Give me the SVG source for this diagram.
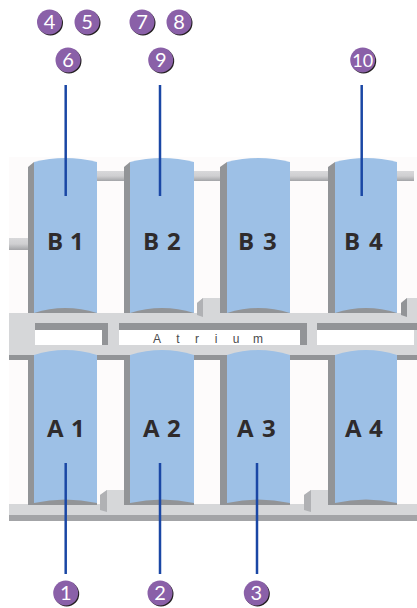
<svg xmlns="http://www.w3.org/2000/svg" width="417" height="608" viewBox="0 0 417 608">
<defs>
<linearGradient id="pipe" x1="0" y1="0" x2="0" y2="1"><stop offset="0" stop-color="#d8d8da"/><stop offset="0.5" stop-color="#cfcfd1"/><stop offset="1" stop-color="#a3a4a7"/></linearGradient>
<filter id="soft" x="-5%" y="-5%" width="110%" height="110%"><feGaussianBlur stdDeviation="0.6"/></filter>
</defs>
<style>
.tank{fill:#9dc0e6}
.dark{fill:#929497}
.mid{fill:#b0b1b4}
.light{fill:#d6d7d9}
.pipe{fill:url(#pipe)}
.soft{filter:url(#soft)}
.lbl{font:700 24px "Open Sans","Liberation Sans",sans-serif;fill:#2f2b2c}
.atr{font:12px "Liberation Sans",Arial,sans-serif;fill:#4a4a4c;text-anchor:middle}
.num{font:20px "Lato","Liberation Sans",sans-serif;fill:#fff;text-anchor:middle}
.line{stroke:#1a47a5;stroke-width:2.5;fill:none}
.b{fill:#8a60a8}
.s{fill:#231f20}
</style>
<rect width="417" height="608" fill="#fff"/>
<g id="building" class="soft">
<rect x="9" y="157" width="408" height="363" fill="#fdfbfb"/>
<rect x="90" y="171" width="40" height="10" class="pipe"/>
<rect x="190" y="171" width="40" height="10" class="pipe"/>
<rect x="288" y="171" width="42" height="10" class="pipe"/>
<rect x="395" y="171" width="19" height="10" class="pipe"/>
<rect x="9" y="238" width="22" height="12" class="pipe"/>
<rect x="9" y="313" width="408" height="42" class="light"/>
<rect x="9" y="355" width="408" height="5" class="dark"/>
<rect x="35" y="323" width="73" height="7" class="dark"/>
<rect x="35" y="330" width="67" height="15" fill="#fff"/>
<rect x="102" y="323" width="6" height="22" class="dark"/>
<rect x="119" y="323" width="188" height="7" class="dark"/>
<rect x="119" y="330" width="181" height="15" fill="#fff"/>
<rect x="300" y="323" width="7" height="22" class="dark"/>
<rect x="317" y="323" width="100" height="7" class="dark"/>
<rect x="317" y="330" width="97" height="15" fill="#fff"/>
<rect x="9" y="504" width="408" height="11" class="light"/>
<rect x="9" y="515" width="408" height="6" fill="#a3a4a7"/>
<path d="M100 495l7-5h18v22h-18l-7-2z" class="light"/>
<path d="M100 495l7-5v22l-7-2z" class="mid"/>
<path d="M197 303l6-5h22v19h-22l-6-2z" class="light"/>
<path d="M197 303l6-5v19l-6-2z" class="mid"/>
<path d="M304 495l7-5h19v22h-19l-7-2z" class="light"/>
<path d="M304 495l7-5v22l-7-2z" class="mid"/>
<path d="M401 303l6-5h10v19h-10l-6-2z" class="light"/>
<path d="M401 303l6-5v19l-6-2z" class="dark"/>
</g>
<g id="B1" class="soft"><path d="M28 313V167l6-5V313z" class="dark"/><path d="M34 313V162q31-8 63 0V313z" class="tank"/><path d="M34 313q31-10 63 0z" class="dark"/></g>
<g id="B2" class="soft"><path d="M124 313V167l6-5V313z" class="dark"/><path d="M130 313V162q32-8 64 0V313z" class="tank"/><path d="M130 313q32-10 64 0z" class="dark"/></g>
<g id="B3" class="soft"><path d="M220 313V167l7-5V313z" class="dark"/><path d="M227 313V162q31-8 63 0V313z" class="tank"/><path d="M227 313q31-10 63 0z" class="dark"/></g>
<g id="B4" class="soft"><path d="M328 313V167l7-5V313z" class="dark"/><path d="M335 313V162q31-8 62 0V313z" class="tank"/><path d="M335 313q31-10 62 0z" class="dark"/></g>
<g id="A1" class="soft"><rect x="28" y="355" width="6" height="150" class="dark"/><path d="M34 355q31-10 63 0V505H34z" class="tank"/><path d="M34 505V503q31-7 63 0V505z" class="dark"/></g>
<g id="A2" class="soft"><rect x="124" y="355" width="6" height="150" class="dark"/><path d="M130 355q32-10 64 0V505H130z" class="tank"/><path d="M130 505V503q32-7 64 0V505z" class="dark"/></g>
<g id="A3" class="soft"><rect x="220" y="355" width="7" height="150" class="dark"/><path d="M227 355q31-10 63 0V505H227z" class="tank"/><path d="M227 505V503q31-7 63 0V505z" class="dark"/></g>
<g id="A4" class="soft"><rect x="328" y="355" width="7" height="150" class="dark"/><path d="M335 355q31-10 62 0V505H335z" class="tank"/><path d="M335 505V503q31-7 62 0V505z" class="dark"/></g>
<g id="labels">
<text class="lbl" x="47 70 70" y="250">B 1</text>
<text class="lbl" x="143 167 167" y="250">B 2</text>
<text class="lbl" x="238 263 263" y="250">B 3</text>
<text class="lbl" x="344 369 369" y="250">B 4</text>
<text class="lbl" x="47 71 71" y="437">A 1</text>
<text class="lbl" x="143 167 167" y="437">A 2</text>
<text class="lbl" x="237 262 262" y="437">A 3</text>
<text class="lbl" x="345 369 369" y="437">A 4</text>
<text id="atrium" class="atr" x="157 178 197 216 236 258" y="343">Atrium</text>
</g>
<g id="connectors" class="line">
<path d="M65.700 85V196"/><path d="M160 85V196"/><path d="M361.700 85V196"/>
<path d="M65.700 463V574"/><path d="M160 463V574"/><path d="M257 463V574"/>
</g>
<g id="n4"><circle cx="50.500" cy="23" r="12.500" class="s"/><circle cx="49.500" cy="22" r="12.500" class="b"/><text x="49.500" y="29" class="num">4</text></g>
<g id="n5"><circle cx="88" cy="23" r="12.500" class="s"/><circle cx="87" cy="22" r="12.500" class="b"/><text x="87" y="29" class="num">5</text></g>
<g id="n7"><circle cx="143" cy="23" r="12.500" class="s"/><circle cx="142" cy="22" r="12.500" class="b"/><text x="142" y="29" class="num">7</text></g>
<g id="n8"><circle cx="180" cy="23" r="12.500" class="s"/><circle cx="179" cy="22" r="12.500" class="b"/><text x="179" y="29" class="num">8</text></g>
<g id="n6"><circle cx="69" cy="61" r="12.500" class="s"/><circle cx="68" cy="60" r="12.500" class="b"/><text x="68" y="67" class="num">6</text></g>
<g id="n9"><circle cx="161.700" cy="61" r="12.500" class="s"/><circle cx="160.700" cy="60" r="12.500" class="b"/><text x="160.700" y="67" class="num">9</text></g>
<g id="n10"><circle cx="363.700" cy="61" r="12.500" class="s"/><circle cx="362.700" cy="60" r="12.500" class="b"/><text x="362.700" y="66.500" class="num" style="font-size:18px">10</text></g>
<g id="n1"><circle cx="66.700" cy="594" r="12.500" class="s"/><circle cx="65.700" cy="593" r="12.500" class="b"/><text x="65.700" y="600" class="num">1</text></g>
<g id="n2"><circle cx="161" cy="594" r="12.500" class="s"/><circle cx="160" cy="593" r="12.500" class="b"/><text x="160" y="600" class="num">2</text></g>
<g id="n3"><circle cx="257.300" cy="594" r="12.500" class="s"/><circle cx="256.300" cy="593" r="12.500" class="b"/><text x="256.300" y="600" class="num">3</text></g>
</svg>
